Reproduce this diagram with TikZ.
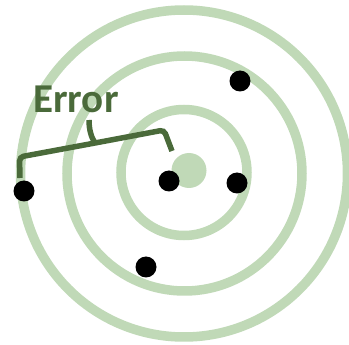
\documentclass[tikz,border=0pt]{standalone}
\usepackage{fontspec}
\setmainfont{Carlito}
\definecolor{ringgreen}{HTML}{C0D9B7}
\definecolor{darkgreen}{HTML}{4A6A3A}
\begin{document}
\begin{tikzpicture}[x=1pt,y=-1pt,
  ring/.style={draw=ringgreen,line width=9.5pt},
  shot/.style={circle,fill=black,minimum size=21pt,inner sep=0pt},
  bull/.style={circle,fill=ringgreen,minimum size=35pt,inner sep=0pt},
  bracestyle/.style={draw=darkgreen,line width=5.5pt,rounded corners=4pt},
  label/.style={text=darkgreen,font=\bfseries\fontsize{41pt}{41pt}\selectfont,anchor=base,inner sep=0pt}]
\useasboundingbox (0,0) rectangle (349,345);
\draw[ring] (184,173.5) circle[radius=163.5pt];
\draw[ring] (184.5,173.5) circle[radius=117.5pt];
\draw[ring] (184,172.5) circle[radius=63pt];
\node[bull] (bull) at (189,170.5) {};
\node[shot] (s1) at (240,81) {};
\node[shot] (s2) at (169,181) {};
\node[shot] (s3) at (237,183) {};
\node[shot] (s4) at (24,191) {};
\node[shot] (s5) at (146,267) {};
\coordinate (bl) at (20,178);
\coordinate (br) at (172,151);
\coordinate (bm) at (95,143);
\draw[bracestyle] (bl) -- (19.5,157) -- (bm) -- (164,130) -- (br);
\draw[draw=darkgreen,line width=5.5pt] (bm) .. controls (91,137) and (89,129) .. (89,120);
\node[label] (err) at (76,113) {Error};
\end{tikzpicture}
\end{document}
